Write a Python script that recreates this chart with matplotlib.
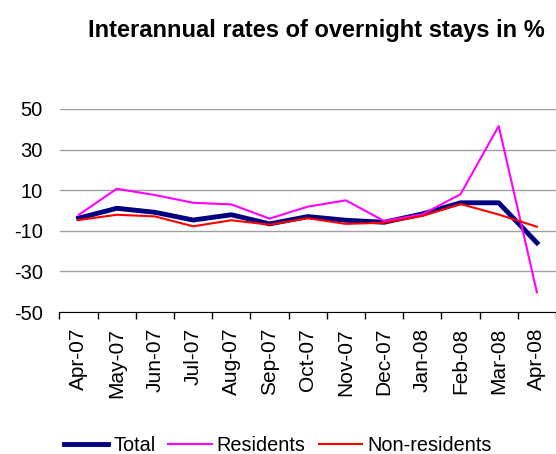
import matplotlib
matplotlib.use("Agg")
import matplotlib.pyplot as plt

categories = ["Apr-07", "May-07", "Jun-07", "Jul-07", "Aug-07", "Sep-07", "Oct-07",
              "Nov-07", "Dec-07", "Jan-08", "Feb-08", "Mar-08", "Apr-08"]
total = [-3.8, 1.1, -0.9, -4.7, -2.1, -6.6, -3.0, -4.8, -5.8, -1.7, 3.8, 3.8, -15.9]
residents = [-2.2, 10.7, 7.6, 3.8, 3.0, -4.0, 1.9, 5.0, -5.2, -1.9, 8.0, 41.6, -40.3]
non_residents = [-4.7, -2.1, -2.9, -7.8, -4.8, -7.0, -3.8, -6.6, -6.0, -2.7, 3.2, -2.0, -8.0]
yticks = [-50, -30, -10, 10, 30, 50]

plt.rcParams['font.family'] = ['Liberation Sans', 'DejaVu Sans']

W, H = 556, 454
fig = plt.figure(figsize=(W / 100, H / 100), dpi=100)
ax = fig.add_axes([59.5 / W, (H - 312) / H, (556 - 59.5) / W, (312 - 109) / H])

x = list(range(len(categories)))
ax.plot(x, total, color="#000080", lw=3.5, label="Total", zorder=3)
ax.plot(x, residents, color="#FF00FF", lw=1.5, label="Residents", zorder=3)
ax.plot(x, non_residents, color="#FF0000", lw=1.5, label="Non-residents", zorder=3)

ax.set_xlim(-0.5, len(categories) - 0.5)
ax.set_ylim(-50, 50)
ax.set_yticks(yticks)
ax.set_yticklabels([str(v) for v in yticks], fontsize=14.5)
ax.set_xticks([i - 0.5 for i in range(len(categories) + 1)], minor=False)
ax.set_xticklabels([])
ax.set_xticks(x, minor=True)
ax.set_xticklabels(categories, minor=True, rotation=90, fontsize=15)
ax.tick_params(axis='x', which='major', direction='out', length=5, width=1, color='black')
ax.tick_params(axis='x', which='minor', length=0, pad=11.5)
ax.tick_params(axis='y', length=0, pad=12)
ax.yaxis.grid(True, color="#a0a0a0", lw=1)
ax.set_axisbelow(True)
for s in ["top", "right", "left"]:
    ax.spines[s].set_visible(False)
ax.spines["bottom"].set_color("black")

fig.text(316.5 / W, 1 - 30 / H, "Interannual rates of overnight stays in %", fontsize=17,
         fontweight="bold", ha="center", va="center")

fig.legend(loc="center", bbox_to_anchor=(278 / W, 1 - 445.5 / H), ncol=3, frameon=False,
           fontsize=14.3, handlelength=2.2, handletextpad=0.25, columnspacing=0.65,
           borderaxespad=0, borderpad=0)

fig.savefig("out.png", dpi=100)
